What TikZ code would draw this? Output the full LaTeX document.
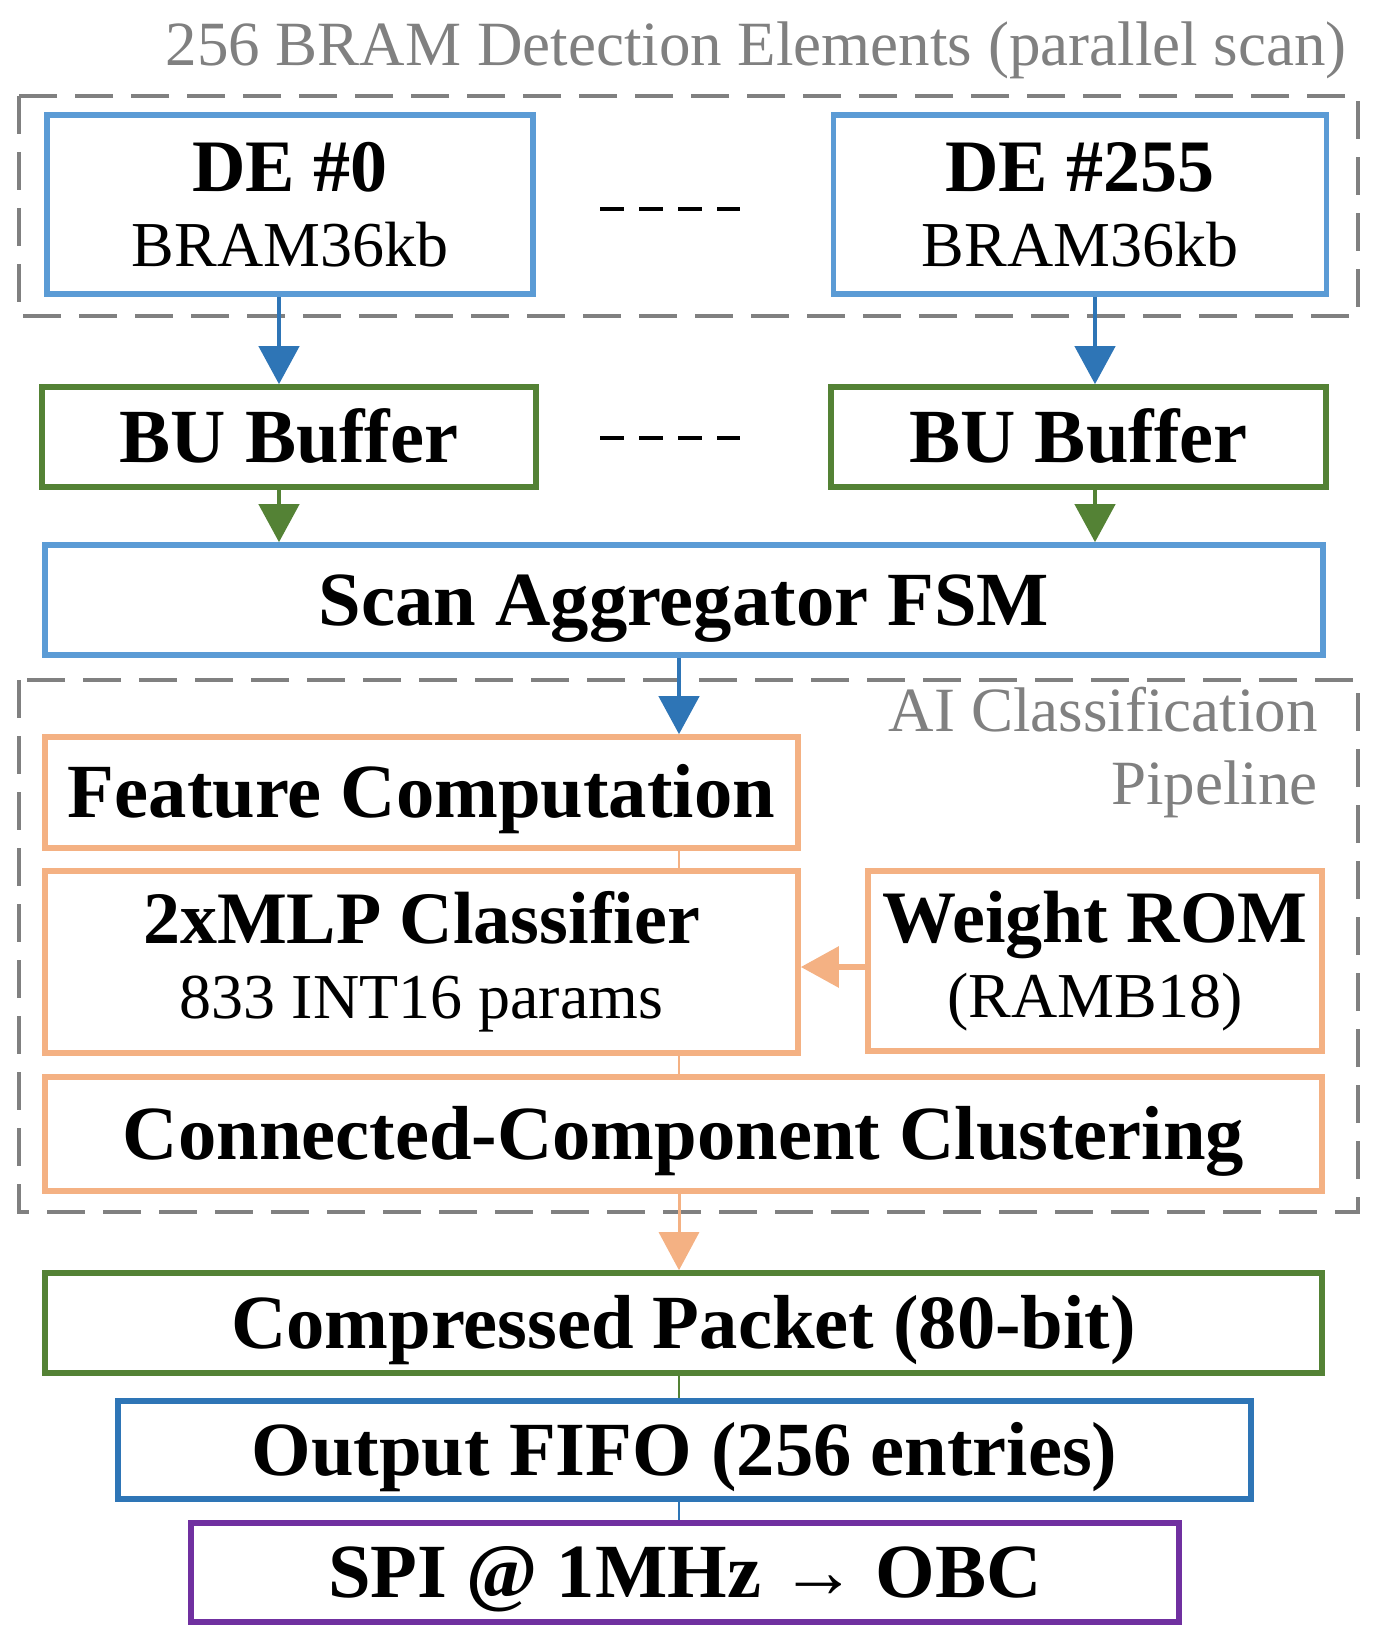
\documentclass[tikz,border=0pt]{standalone}
\usepackage{fontspec}
\setmainfont{Liberation Serif}
\usetikzlibrary{arrows.meta}
\definecolor{lblue}{HTML}{5B9BD5}
\definecolor{dblue}{HTML}{2E75B6}
\definecolor{bgreen}{HTML}{548235}
\definecolor{lorange}{HTML}{F4B183}
\definecolor{bpurple}{HTML}{7030A0}
\definecolor{lgray}{HTML}{808080}
\tikzset{
  block/.style={draw, line width=2.8pt, fill=white, inner sep=0pt, align=center},
  single/.style={text height=25pt, text depth=0pt},
  grp/.style={draw=lgray, line width=2pt, dash pattern=on 19pt off 9pt},
  flow/.style={line width=2.2pt, -{Triangle[width=20pt,length=19pt]}},
  link/.style={line width=1pt},
  gap/.style={line width=2pt, dash pattern=on 12pt off 7.5pt},
  big/.style={font=\fontsize{38.3}{37.5}\selectfont\bfseries},
  twoline/.style={font=\fontsize{37}{37.5}\selectfont\bfseries},
}
\newcommand{\subline}{\fontsize{32}{37.5}\selectfont\mdseries}
\begin{document}
\begin{tikzpicture}[x=0.5pt,y=-0.5pt]
    \useasboundingbox (0,0) rectangle (1382,1636);
    \coordinate (colL) at (279,0);
    \coordinate (colR) at (1095,0);
    \coordinate (colM) at (679,0);
    % detection elements
    \node [anchor=east, inner sep=0pt, text=lgray, font=\fontsize{31.5}{36}\selectfont] (title) at (1347,50) {256 BRAM Detection Elements (parallel scan)};
    \draw [grp] (19,96) rectangle (1358,316);
    \node [block, draw=lblue, twoline, minimum width=243pt, minimum height=89.5pt] (de0) at (290,204.5) {DE \#0\\ \subline BRAM36kb};
    \node [block, draw=lblue, twoline, minimum width=246.5pt, minimum height=89.5pt] (de255) at (1080,204.5) {DE \#255\\ \subline BRAM36kb};
    \draw [gap] (600,209) -- (740,209);
    \node [block, single, draw=bgreen, big, minimum width=247pt, minimum height=50pt] (bu0) at (289,437) {BU Buffer};
    \node [block, single, draw=bgreen, big, minimum width=247.5pt, minimum height=50pt] (bu255) at (1078.5,437) {BU Buffer};
    \draw [gap] (600,438) -- (740,438);
    \node [block, single, draw=lblue, big, minimum width=639pt, minimum height=55pt] (scan) at (684,600) {Scan Aggregator FSM};
    % classification pipeline
    \draw [grp] (19,680) rectangle (1358,1212);
    \node [anchor=east, inner sep=0pt, align=right, text=lgray, font=\fontsize{31.5}{36.5}\selectfont] (ailabel) at (1318,753) {AI Classification\\Pipeline};
    \node [block, single, draw=lorange, big, minimum width=376.5pt, minimum height=55.5pt] (feat) at (421.5,792.5) {Feature Computation};
    \node [block, draw=lorange, twoline, minimum width=376.5pt, minimum height=91pt] (mlp) at (421.5,962) {2xMLP Classifier\\ \subline 833 INT16 params};
    \node [block, draw=lorange, twoline, minimum width=227pt, minimum height=90pt] (rom) at (1095,961) {Weight ROM\\ \subline (RAMB18)};
    \node [block, single, draw=lorange, big, minimum width=638.5pt, minimum height=57pt] (cc) at (683.5,1134) {Connected-Component Clustering};
    % output chain
    \node [block, single, draw=bgreen, big, minimum width=638.5pt, minimum height=50pt] (pkt) at (683.5,1323) {Compressed Packet (80-bit)};
    \node [block, single, draw=dblue, big, minimum width=566.5pt, minimum height=49pt] (fifo) at (684.5,1450) {Output FIFO (256 entries)};
    \node [block, single, draw=bpurple, big, minimum width=494pt, minimum height=49.5pt] (spi) at (685,1572.5) {SPI @ 1MHz {\mdseries →} OBC};
    % connectors
    \draw [flow, dblue] (de0.south -| colL) -- (bu0.north -| colL);
    \draw [flow, dblue] (de255.south -| colR) -- (bu255.north -| colR);
    \draw [flow, bgreen] (bu0.south -| colL) -- (scan.north -| colL);
    \draw [flow, bgreen] (bu255.south -| colR) -- (scan.north -| colR);
    \draw [flow, dblue] (scan.south -| colM) -- (feat.north -| colM);
    \draw [link, lorange] (feat.south -| colM) -- (mlp.north -| colM);
    \draw [flow, lorange, line width=3pt] (rom.west |- 0,967) -- (mlp.east |- 0,967);
    \draw [link, lorange] (mlp.south -| colM) -- (cc.north -| colM);
    \draw [flow, lorange, line width=1.5pt] (cc.south -| colM) -- (pkt.north -| colM);
    \draw [link, bgreen] (pkt.south -| colM) -- (fifo.north -| colM);
    \draw [link, dblue] (fifo.south -| colM) -- (spi.north -| colM);
\end{tikzpicture}
\end{document}
